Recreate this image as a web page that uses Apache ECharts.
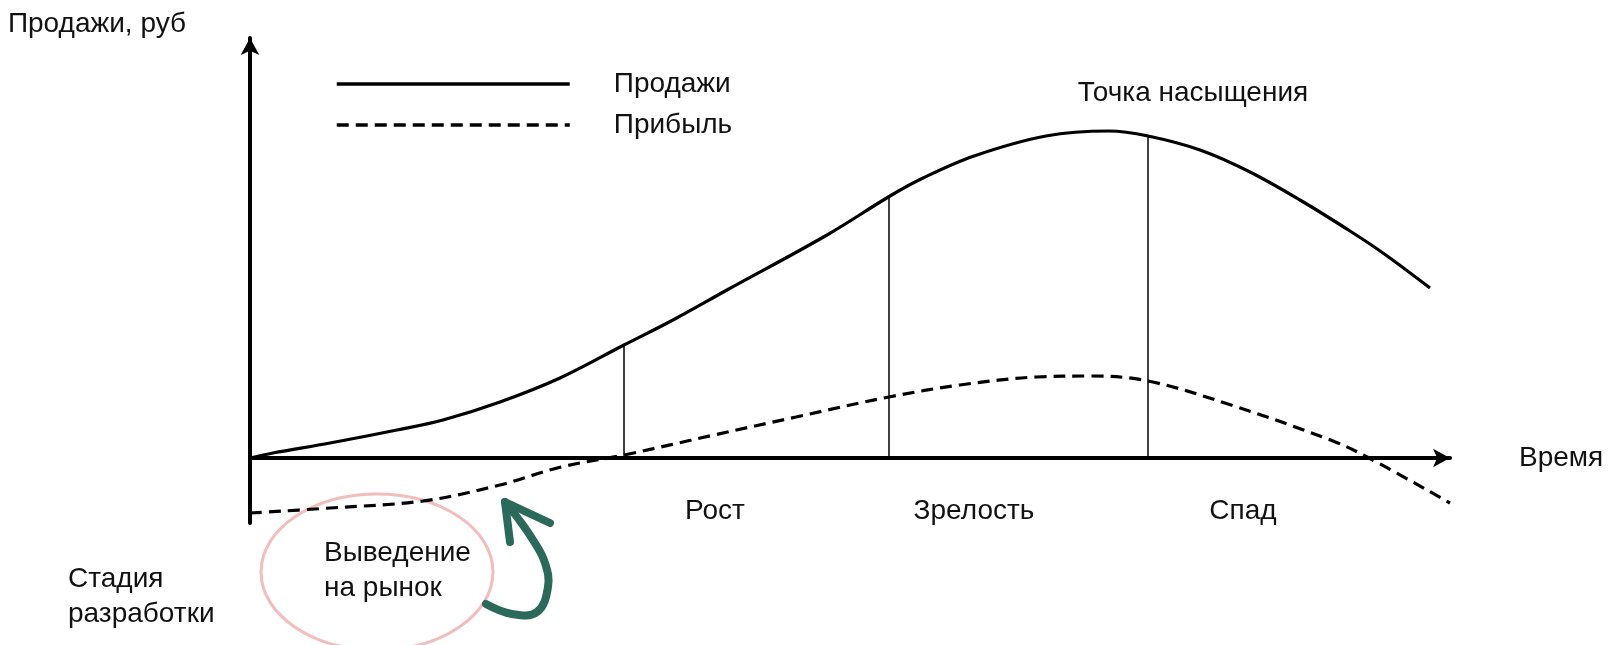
<!DOCTYPE html>
<html><head><meta charset="utf-8">
<script src="https://cdn.jsdelivr.net/npm/echarts@6/dist/echarts.min.js"></script>
<style>html,body{margin:0;padding:0;background:#fff}#c{width:1608px;height:645px}</style>
</head><body><div id="c"></div>
<script>
// ---- data (time units along x, relative sales/profit along y) ----
const seriesNames = ['Продажи', 'Прибыль'];
const salesX  = [0, 2.3, 8, 14.7, 19.3, 25, 31, 37.4, 42.3, 47.7, 57.7, 64, 67.3, 72.4, 79.6, 85.9, 89.8, 95, 100, 105, 110, 113.3, 118];
const salesY  = [0, 0.5, 1.5, 2.8, 3.8, 5.6, 8.0, 11.3, 13.8, 16.8, 22.3, 26.2, 28.0, 30.2, 32.2, 32.7, 32.2, 30.8, 28.6, 25.8, 22.7, 20.5, 17.0];
const profitX = [0, 8, 17.3, 25, 31.1, 37.4, 46.4, 54.6, 63.9, 71, 78.6, 84, 89.8, 98.1, 108.3, 111.9, 120];
const profitY = [-5.5, -5.0, -4.3, -2.7, -0.9, 0.3, 2.3, 4.1, 6.1, 7.3, 8.1, 8.2, 7.7, 5.3, 1.7, 0, -4.5];
const devX = [-19, 0];
const devY = [-8.7, 0];
const stageX   = [37.4, 63.9, 89.8];
const stageTop = [11.3, 26.2, 32.2];
const labelTexts = ['Точка насыщения', 'Рост', 'Зрелость', 'Спад'];
const labelX = [94.3, 46.5, 72.4, 99.3];
const labelY = [36.5, -5.3, -5.3, -5.3];
const noteTexts = ['Выведение\nна рынок', 'Стадия\nразработки'];
const noteX = [7.4, -18.2];
const noteY = [-11.25, -13.9];
// hand-drawn annotation geometry, in data units
const circleNote = [12.7, -11.4, 11.6, 7.8];
const arrowX = [23.6, 26.2, 28.7, 29.8, 29.5, 28.3, 26.7, 25.5];
const arrowY = [-14.6, -15.6, -15.4, -12.9, -10.5, -8.2, -5.9, -4.4];
const headX = [26.0, 25.5, 30.0];
const headY = [-8.4, -4.4, -6.5];

const FONT = '"Liberation Sans", Arial, sans-serif';
const TXT = '#111';
const INK = '#000';
const GREEN = '#2b6a5a';

const chart = echarts.init(document.getElementById('c'), null, {renderer: 'canvas'});
const labelBase = {show: true, formatter: '{b}', fontSize: 28, color: TXT, fontFamily: FONT,
                   textBorderWidth: 0, opacity: 1};
const option = {
  animation: false,
  backgroundColor: '#fff',
  textStyle: {fontFamily: FONT},
  grid: {left: 250, right: 158, top: 38, bottom: 122, containLabel: false, outerBoundsMode: 'none'},
  legend: {
    data: seriesNames,
    orient: 'vertical', left: 330, top: 64,
    itemWidth: 233, itemHeight: 14, itemGap: 11, selectedMode: false,
    itemStyle: {opacity: 0},
    lineStyle: {width: 3.5},
    textStyle: {fontSize: 28, color: TXT, fontFamily: FONT, lineHeight: 30, padding: [0, 0, 0, 39]}
  },
  xAxis: {
    type: 'value', min: 0, max: 120,
    axisLine: {onZero: true, symbol: ['none', 'arrow'], symbolSize: [14, 17], lineStyle: {color: INK, width: 4}},
    axisTick: {show: false}, axisLabel: {show: false}, splitLine: {show: false},
    name: 'Время', nameLocation: 'end', nameGap: 69,
    nameTextStyle: {fontSize: 28, color: TXT, fontFamily: FONT, align: 'left', verticalAlign: 'middle', padding: [0, 0, 32, 0]}
  },
  yAxis: {
    type: 'value', min: -6.5, max: 42,
    axisLine: {onZero: true, symbol: ['none', 'arrow'], symbolSize: [14, 17], lineStyle: {color: INK, width: 4}},
    axisTick: {show: false}, axisLabel: {show: false}, splitLine: {show: false},
    name: 'Продажи, руб', nameLocation: 'end', nameGap: 0,
    nameTextStyle: {fontSize: 28, color: TXT, fontFamily: FONT, align: 'right', padding: [0, 64, 0, 0]}
  },
  series: [
    {
      name: seriesNames[0], type: 'line', smooth: 0.35, symbol: 'none', silent: true, z: 4,
      data: salesX.map((x, i) => [x, salesY[i]]),
      lineStyle: {color: INK, width: 3.2}, itemStyle: {color: INK},
      markLine: {
        silent: true, symbol: 'none', label: {show: false}, animation: false,
        lineStyle: {color: INK, width: 1.5, type: 'solid'},
        data: stageX.map((x, i) => [{coord: [x, 0]}, {coord: [x, stageTop[i]]}])
      }
    },
    {
      name: seriesNames[1], type: 'line', smooth: 0.35, symbol: 'none', silent: true, z: 4,
      data: profitX.map((x, i) => [x, profitY[i]]),
      lineStyle: {color: INK, width: 3.2, type: [12, 7]}, itemStyle: {color: INK}
    },
    {
      name: 'dev', type: 'line', symbol: 'none', silent: true, clip: false,
      data: devX.map((x, i) => [x, devY[i]]),
      lineStyle: {color: INK, width: 1.8}
    },
    {
      name: 'labels', type: 'scatter', symbolSize: 1, silent: true, clip: false,
      itemStyle: {color: '#fff', opacity: 1},
      data: labelTexts.map((t, i) => ({name: t, value: [labelX[i], labelY[i]]})),
      label: Object.assign({}, labelBase, {position: ['50%', '50%'], align: 'center', verticalAlign: 'middle'})
    },
    {
      name: 'notes', type: 'scatter', symbolSize: 1, silent: true, clip: false,
      itemStyle: {color: '#fff', opacity: 1},
      data: noteTexts.map((t, i) => ({name: t, value: [noteX[i], noteY[i]]})),
      label: Object.assign({}, labelBase, {position: ['50%', '50%'], align: 'left', verticalAlign: 'middle', lineHeight: 35})
    }
  ]
};
chart.setOption(option);

const px = p => chart.convertToPixel({gridIndex: 0}, p);
const c0 = px([circleNote[0], circleNote[1]]);
const c1 = px([circleNote[0] + circleNote[2], circleNote[1] + circleNote[3]]);
chart.setOption({
  graphic: [
    {type: 'ellipse', silent: true, z: 1,
     shape: {cx: c0[0], cy: c0[1], rx: c1[0] - c0[0], ry: c0[1] - c1[1]},
     style: {fill: 'none', stroke: '#f2bdbd', lineWidth: 3}},
    {type: 'polyline', silent: true, z: 5,
     shape: {points: arrowX.map((x, i) => px([x, arrowY[i]])), smooth: 0.4},
     style: {fill: 'none', stroke: GREEN, lineWidth: 8, lineCap: 'round', lineJoin: 'round'}},
    {type: 'polyline', silent: true, z: 5,
     shape: {points: headX.map((x, i) => px([x, headY[i]]))},
     style: {fill: 'none', stroke: GREEN, lineWidth: 8, lineCap: 'round', lineJoin: 'round'}}
  ]
});
</script>
</body></html>
